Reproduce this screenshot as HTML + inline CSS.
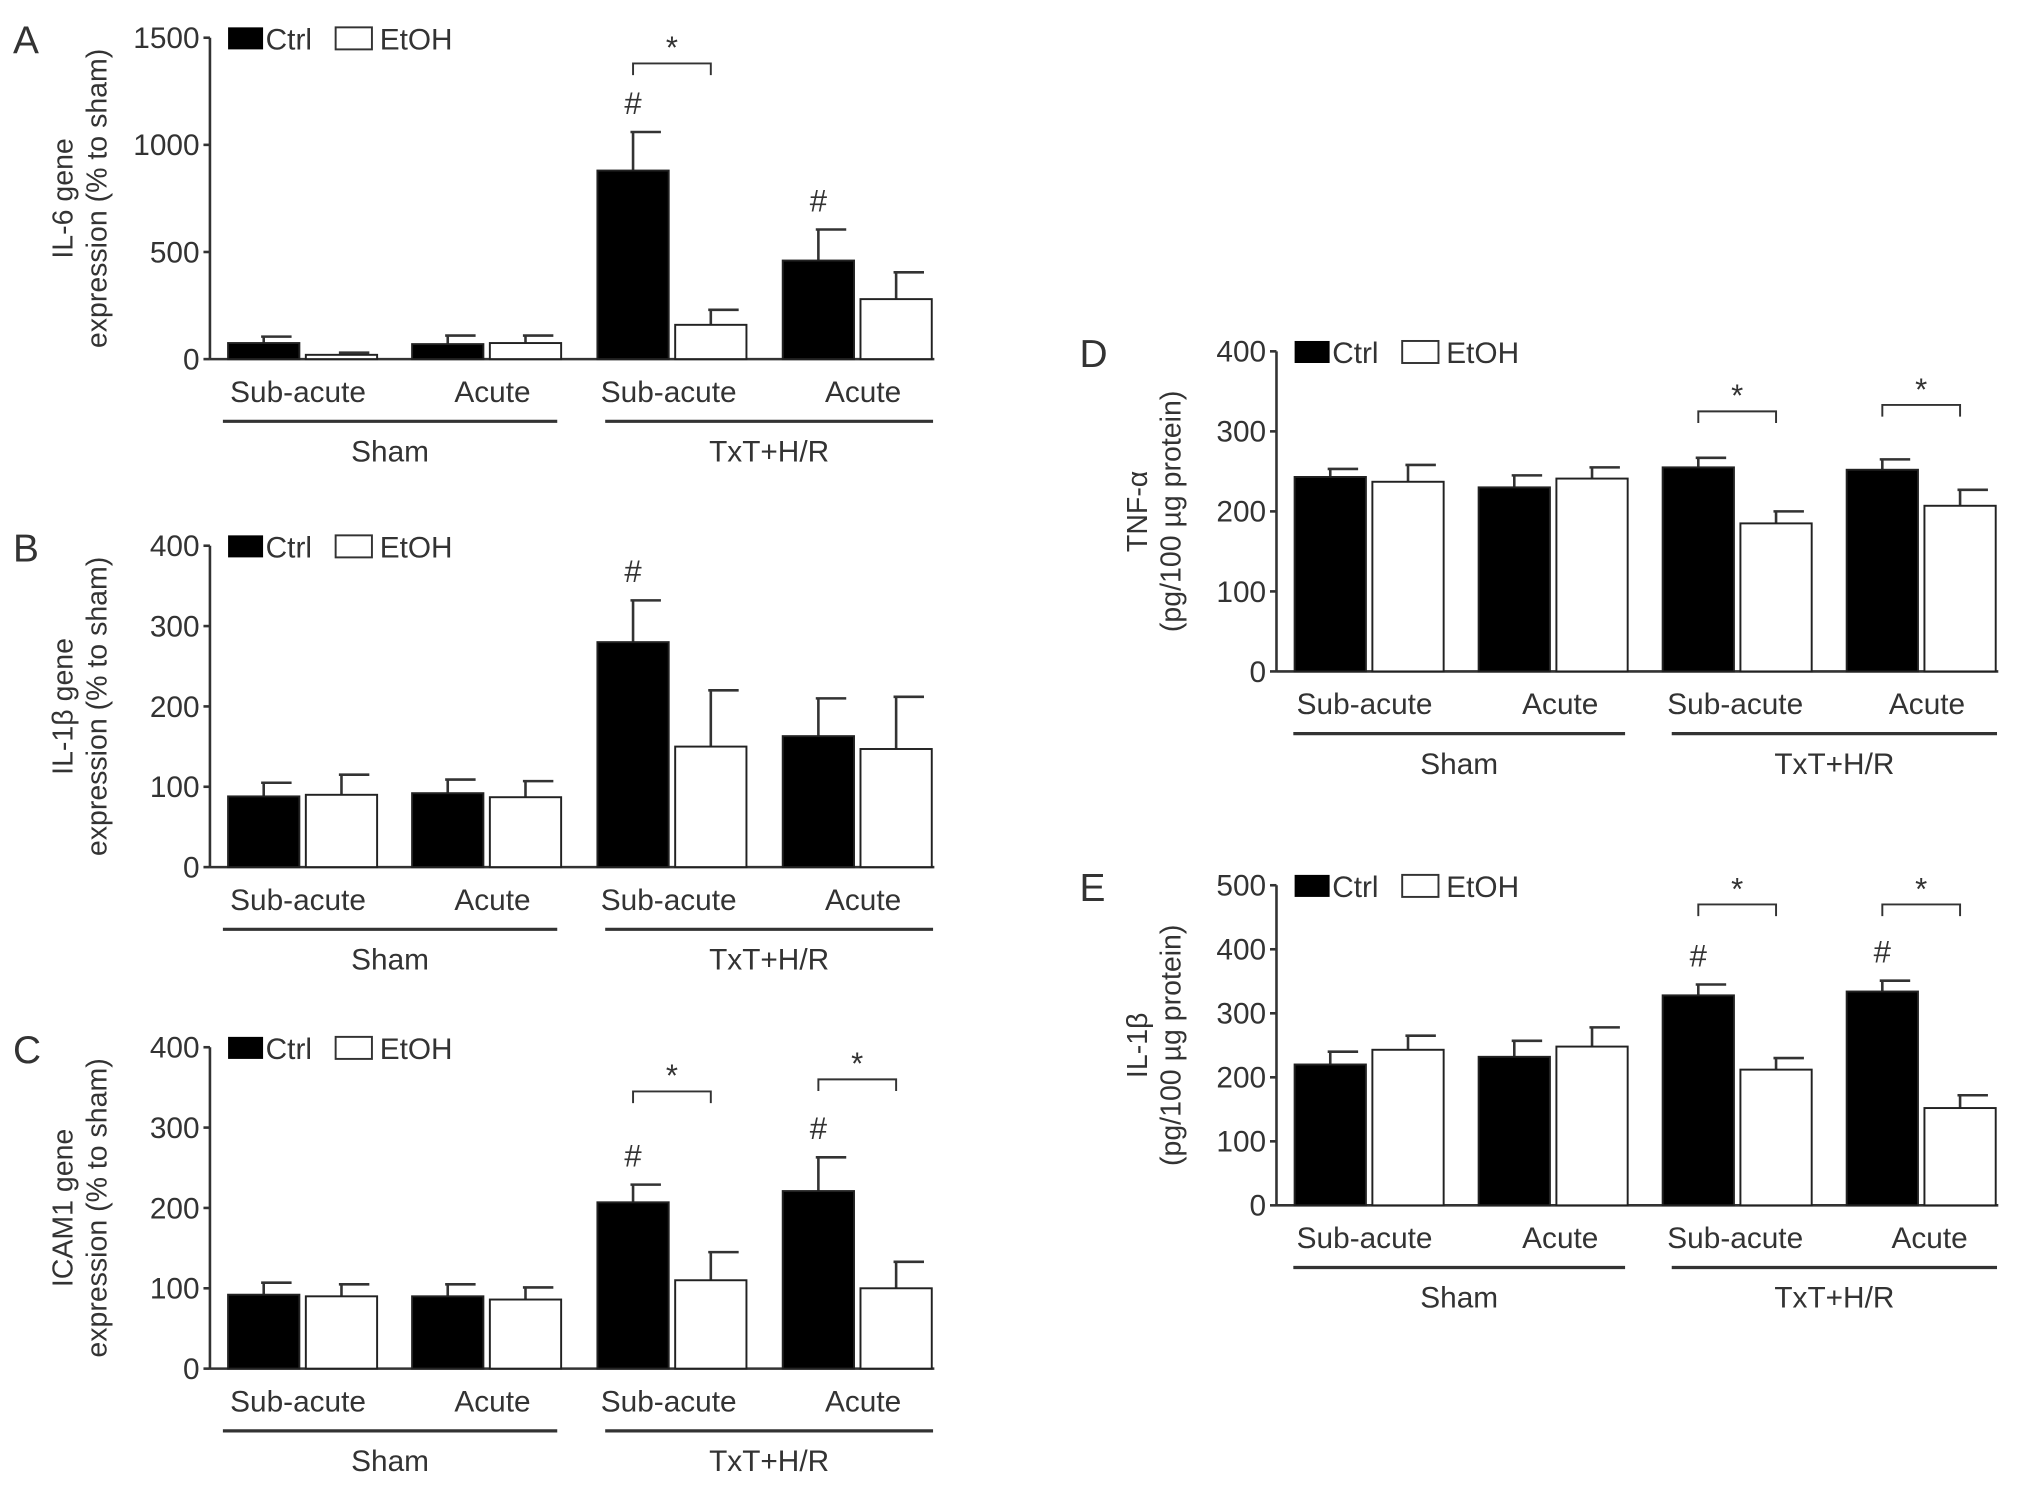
<!DOCTYPE html>
<html><head><meta charset="utf-8"><style>
body{margin:0;background:#fff}
svg{display:block;font-family:"Liberation Sans",sans-serif}
text{fill:#333}
</style></head><body>
<svg id="fig" width="2032" height="1488" viewBox="0 0 1568 1148" xmlns="http://www.w3.org/2000/svg"></svg>
<script>
const categories=["Sub-acute","Acute","Sub-acute","Acute"];
const groups=["Sham","TxT+H/R"];
const aCtrl=[75,70,880,460], aCtrlErr=[30,40,180,145], aEtoh=[20,75,160,280], aEtohErr=[10,35,70,125];
const bCtrl=[88,92,280,163], bCtrlErr=[17,17,52,47], bEtoh=[90,87,150,147], bEtohErr=[25,20,70,65];
const cCtrl=[92,90,207,221], cCtrlErr=[15,15,22,42], cEtoh=[90,86,110,100], cEtohErr=[15,15,35,33];
const dCtrl=[243,230,255,252], dCtrlErr=[10,15,12,13], dEtoh=[237,241,185,207], dEtohErr=[21,14,15,20];
const eCtrl=[220,232,328,334], eCtrlErr=[20,25,17,17], eEtoh=[243,248,212,152], eEtohErr=[22,30,18,20];
const aTicks=[0,500,1000,1500], bTicks=[0,100,200,300,400], dTicks=[0,100,200,300,400], eTicks=[0,100,200,300,400,500];

const NS="http://www.w3.org/2000/svg", svg=document.getElementById('fig');
function mk(tag,at,parent){const e=document.createElementNS(NS,tag);for(const k in at)e.setAttribute(k,at[k]);(parent||svg).appendChild(e);return e;}
function txt(s,at,parent){const e=mk('text',at,parent);e.textContent=s;return e;}

const panels=[
 {id:'a',letter:'A',ax:162,top:29,bot:277,max:1500,ticks:aTicks,ctrl:aCtrl,ce:aCtrlErr,et:aEtoh,ee:aEtohErr,t1:'IL-6 gene',t2:'expression (% to sham)',gx:[176,318,461,604],lx:[230,380,516,666],ul:[[172,430],[467,720]],hash:[2,3],br:[[2,1380]]},
 {id:'b',letter:'B',ax:162,top:421,bot:669,max:400,ticks:bTicks,ctrl:bCtrl,ce:bCtrlErr,et:bEtoh,ee:bEtohErr,t1:'IL-1β gene',t2:'expression (% to sham)',gx:[176,318,461,604],lx:[230,380,516,666],ul:[[172,430],[467,720]],hash:[2],br:[]},
 {id:'c',letter:'C',ax:162,top:808,bot:1056,max:400,ticks:bTicks,ctrl:cCtrl,ce:cCtrlErr,et:cEtoh,ee:cEtohErr,t1:'ICAM1 gene',t2:'expression (% to sham)',gx:[176,318,461,604],lx:[230,380,516,666],ul:[[172,430],[467,720]],hash:[2,3],br:[[2,345],[3,360]]},
 {id:'d',letter:'D',ax:985,top:271,bot:518,max:400,ticks:dTicks,ctrl:dCtrl,ce:dCtrlErr,et:dEtoh,ee:dEtohErr,t1:'TNF-α',t2:'(pg/100 µg protein)',gx:[999,1141,1283,1425],lx:[1053,1204,1339,1487],ul:[[998,1254],[1290,1541]],hash:[],br:[[2,325],[3,333]]},
 {id:'e',letter:'E',ax:985,top:683,bot:930,max:500,ticks:eTicks,ctrl:eCtrl,ce:eCtrlErr,et:eEtoh,ee:eEtohErr,t1:'IL-1β',t2:'(pg/100 µg protein)',gx:[999,1141,1283,1425],lx:[1053,1204,1339,1489],ul:[[998,1254],[1290,1541]],hash:[2,3],br:[[2,470],[3,470]]}
];
const BW=55, GAP=5;
panels.forEach(p=>{
 const g=mk('g',{});
 
 
 const y=v=>p.bot-(v/p.max)*(p.bot-p.top);
 const right=p.gx[3]+2*BW+GAP+2;
 const lt=txt(p.letter,{x:p.ax-152,y:p.top+12,'font-size':30},g);
 
 
 const yax=mk('line',{x1:p.ax,y1:p.top,x2:p.ax,y2:p.bot,stroke:'#333','stroke-width':2},g);
 
 
 const xax=mk('line',{x1:p.ax,y1:p.bot,x2:right,y2:p.bot,stroke:'#333','stroke-width':2},g);
 
 
 p.ticks.forEach(t=>{
  mk('line',{x1:p.ax-5,y1:y(t),x2:p.ax,y2:y(t),stroke:'#333','stroke-width':2},g);
  const tl=txt(t,{x:p.ax-8,y:y(t)+8,'font-size':23,'text-anchor':'end'},g);
  
  
 });
 const cy=(p.top+p.bot)/2, tx=p.ax-(p.id==='d'||p.id==='e'?100:106);
 const t1=txt(p.t1,{x:tx,y:cy,'font-size':22,'text-anchor':'middle',transform:`rotate(-90 ${tx} ${cy})`},g);
 
 
 const t2=txt(p.t2,{x:tx+26,y:cy,'font-size':22,'text-anchor':'middle',transform:`rotate(-90 ${tx+26} ${cy})`},g);
 
 
 const l1=mk('rect',{x:p.ax+14,y:p.top-8,width:27,height:17,fill:'#000'},g);
 
 
 const lc=txt('Ctrl',{x:p.ax+43,y:p.top+9,'font-size':23},g);
 
 
 const l2=mk('rect',{x:p.ax+97,y:p.top-8,width:28,height:17,fill:'#fff',stroke:'#333','stroke-width':1.5},g);
 
 
 const le=txt('EtOH',{x:p.ax+131,y:p.top+9,'font-size':23},g);
 
 
 for(let i=0;i<4;i++){
  const x0=p.gx[i], x1=x0+BW+GAP;
  [[x0,p.ctrl[i],p.ce[i],'#000','ctrl'],[x1,p.et[i],p.ee[i],'#fff','etoh']].forEach(([bx,v,e,f,n])=>{
   const mid=bx+BW/2;
   mk('line',{x1:mid,y1:y(v),x2:mid,y2:y(v+e),stroke:'#333','stroke-width':2},g);
   mk('line',{x1:mid-2,y1:y(v+e),x2:mid+BW/2-6,y2:y(v+e),stroke:'#333','stroke-width':2},g);
   const r=mk('rect',{x:bx,y:y(v),width:BW,height:p.bot-y(v),fill:f,stroke:'#222','stroke-width':1.5},g);
   
   
  });
  const cl=txt(categories[i],{x:p.lx[i],y:p.bot+33,'font-size':23,'text-anchor':'middle'},g);
  
  
 }
 p.ul.forEach((u,j)=>{
  mk('line',{x1:u[0],y1:p.bot+48,x2:u[1],y2:p.bot+48,stroke:'#333','stroke-width':2.5},g);
  const gl=txt(groups[j],{x:(u[0]+u[1])/2,y:p.bot+79,'font-size':23,'text-anchor':'middle'},g);
  
  
 });
 p.hash.forEach(i=>{
  const hx=p.gx[i]+BW/2, hy=y(p.ctrl[i]+p.ce[i])-14;
  const h=txt('#',{x:hx,y:hy,'font-size':24,'text-anchor':'middle'},g);
  
  
 });
 p.br.forEach(([i,v])=>{
  const bx0=p.gx[i]+BW/2, bx1=p.gx[i]+BW+GAP+BW/2, by=y(v);
  mk('path',{d:`M${bx0} ${by+9}V${by}H${bx1}V${by+9}`,fill:'none',stroke:'#333','stroke-width':1.5},g);
  const s=txt('*',{x:(bx0+bx1)/2,y:by-4,'font-size':24,'text-anchor':'middle'},g);
  
  
 });
});
</script>
</body></html>
